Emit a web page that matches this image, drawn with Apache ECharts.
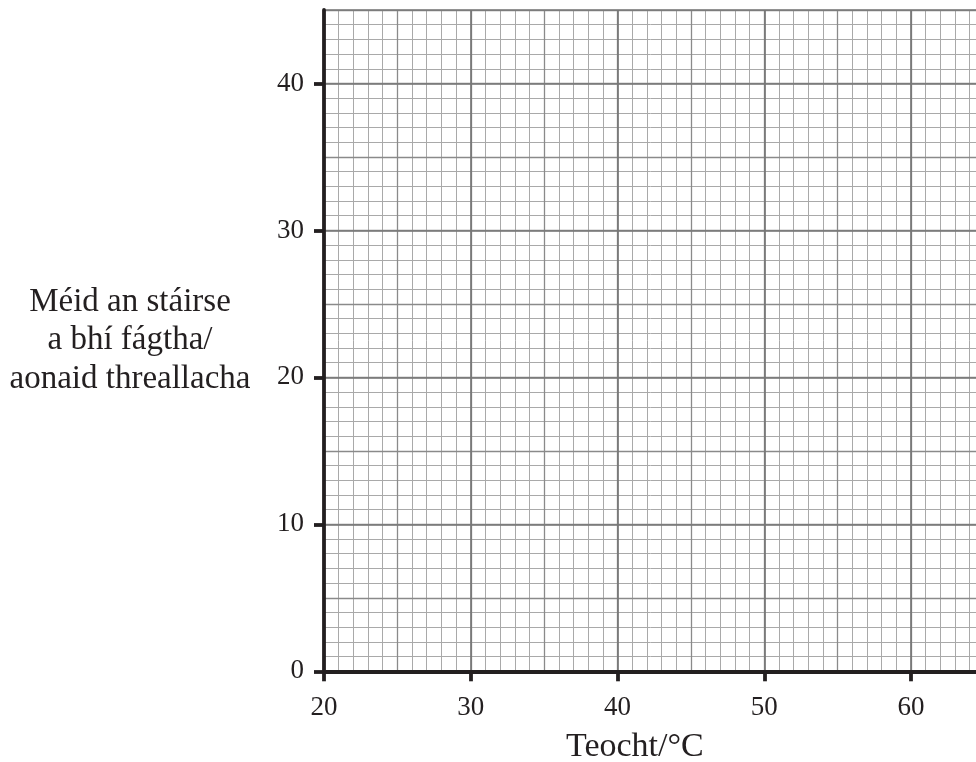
<!DOCTYPE html>
<html>
<head>
<meta charset="utf-8">
<script src="https://cdn.jsdelivr.net/npm/echarts@6/dist/echarts.min.js"></script>
<style>
  html, body { margin: 0; padding: 0; background: #ffffff; }
  #chart { width: 976px; height: 762px; }
</style>
</head>
<body>
<div id="chart"></div>
<script>
// ---- Data (empty graph-paper grid: only axes and tick labels) ----
var xRange = [20, 70];          // visible up to ~64.4 in the picture
var yRange = [0, 45];
var xTicks = [20, 30, 40, 50, 60];
var yTicks = [0, 10, 20, 30, 40];
var xName = 'Teocht/°C';
var yName = 'Méid an stáirse\na bhí fágtha/\naonaid threallacha';
var points = [];                // no data plotted on the reference

var FONT = 'Liberation Serif';
var INK = '#231f20';

function gridAxis(dim, interval, color, width, z) {
  return {
    type: 'value',
    position: dim === 'x' ? 'bottom' : 'left',
    min: dim === 'x' ? xRange[0] : yRange[0],
    max: dim === 'x' ? xRange[1] : yRange[1],
    interval: interval,
    z: z,
    axisLine: { show: false },
    axisTick: { show: false },
    axisLabel: { show: false },
    splitLine: { show: true, lineStyle: { color: color, width: width } }
  };
}

var chart = echarts.init(document.getElementById('chart'));
chart.setOption({
  backgroundColor: '#ffffff',
  animation: false,
  grid: { left: 324, top: 10, width: 733.75, height: 661.3, containLabel: false, outerBoundsMode: 'none' },
  xAxis: [
    gridAxis('x', 1, '#a9a9a9', 1, 0),
    gridAxis('x', 5, '#8a8a8a', 1.3, 1),
    gridAxis('x', 10, '#777777', 1.7, 2),
    {
      type: 'value',
      position: 'bottom',
      min: xRange[0], max: xRange[1], interval: 10,
      z: 5,
      name: xName,
      nameLocation: 'middle',
      nameGap: 59,
      nameTextStyle: { fontFamily: FONT, fontSize: 34, color: INK, lineHeight: 34, padding: [0, 112, 0, 0] },
      axisLine: { show: true, onZero: false, lineStyle: { color: INK, width: 3.8 } },
      axisTick: { show: true, length: 10, inside: false, customValues: xTicks, lineStyle: { color: INK, width: 3.8 } },
      axisLabel: { show: true, margin: 23, customValues: xTicks, fontFamily: FONT, fontSize: 27, color: INK, lineHeight: 27 },
      splitLine: { show: false }
    }
  ],
  yAxis: [
    gridAxis('y', 1, '#a9a9a9', 1, 0),
    gridAxis('y', 5, '#8a8a8a', 1.3, 1),
    gridAxis('y', 10, '#777777', 1.7, 2),
    {
      type: 'value',
      position: 'left',
      min: yRange[0], max: yRange[1], interval: 10,
      z: 5,
      name: yName,
      nameLocation: 'middle',
      nameRotate: 0,
      nameGap: 194,
      nameTextStyle: { fontFamily: FONT, fontSize: 33, color: INK, lineHeight: 38.8, align: 'center', verticalAlign: 'middle' },
      axisLine: { show: true, onZero: false, lineStyle: { color: INK, width: 3.8 } },
      axisTick: { show: true, length: 10, inside: false, customValues: yTicks, lineStyle: { color: INK, width: 3.8 } },
      axisLabel: { show: true, margin: 20, customValues: yTicks, fontFamily: FONT, fontSize: 27, color: INK },
      splitLine: { show: false }
    }
  ],
  series: [{
    type: 'scatter',
    xAxisIndex: 3,
    yAxisIndex: 3,
    data: points,
    symbolSize: 8,
    itemStyle: { color: INK }
  }]
});
</script>
</body>
</html>
